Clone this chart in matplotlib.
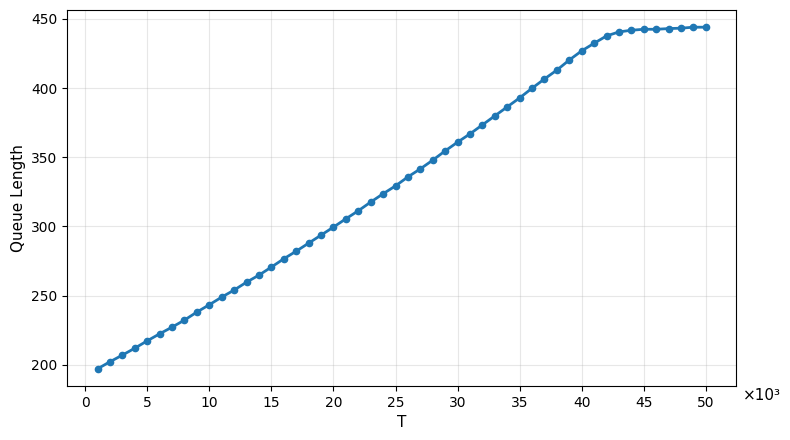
import matplotlib
matplotlib.use('Agg')
import matplotlib.pyplot as plt
import numpy as np

# T in thousands
t = np.arange(1, 51)
queue_len = [197.1, 202.2, 207.0, 212.0, 217.3, 222.4, 227.2, 232.3, 238.1, 243.4,
             248.9, 254.0, 259.7, 264.8, 270.6, 276.6, 282.1, 287.9, 293.7, 299.5,
             305.5, 311.3, 317.6, 323.6, 329.3, 335.8, 341.6, 347.9, 354.6, 360.9,
             366.9, 373.4, 379.9, 386.4, 392.9, 399.9, 406.6, 413.0, 420.3, 426.9,
             432.4, 437.7, 440.6, 441.8, 442.5, 442.5, 443.0, 443.3, 444.0, 444.0]

fig, ax = plt.subplots(figsize=(7.9, 4.4), dpi=100)
ax.plot(t, queue_len, '-o', color='#1f77b4', linewidth=2, markersize=4.5)
ax.grid(True, alpha=0.3)
ax.set_xlabel('T', fontsize=11)
ax.set_ylabel('Queue Length', fontsize=11)
ax.set_xticks(range(0, 51, 5))
ax.text(1.01, -0.025, '×10³', transform=ax.transAxes, fontsize=11, ha='left', va='center')
fig.subplots_adjust(left=0.085, right=0.932, top=0.977, bottom=0.123)
fig.savefig('out.png')
